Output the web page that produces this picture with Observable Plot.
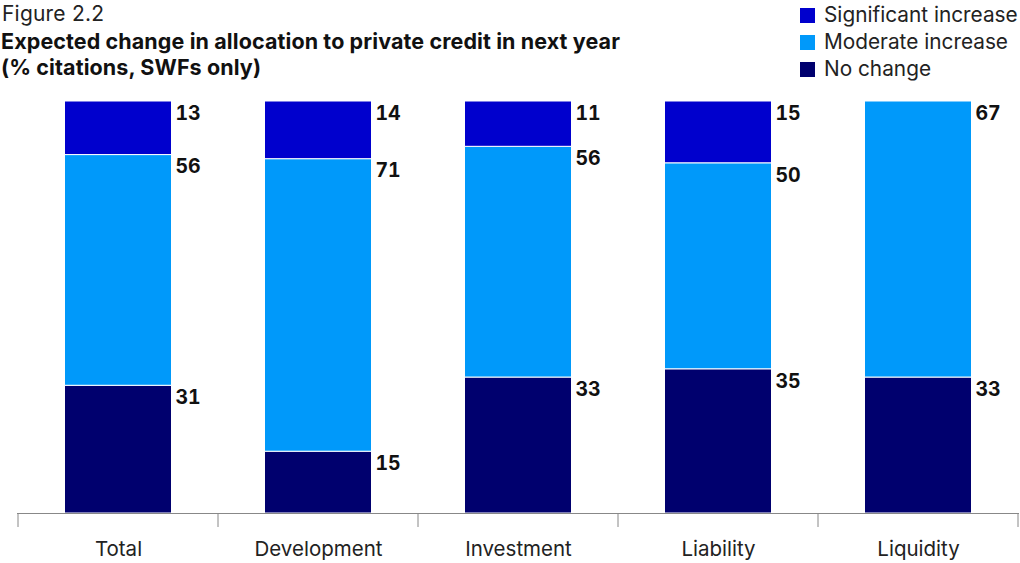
<!DOCTYPE html>
<html><head><meta charset="utf-8">
<script src="https://cdn.jsdelivr.net/npm/d3@7"></script>
<script src="https://cdn.jsdelivr.net/npm/@observablehq/plot@0.6"></script>
<style>
body{margin:0;background:#fff;font-family:Inter,"Noto Sans",sans-serif;color:#111;}
#wrap{position:relative;width:1020px;height:563px;overflow:hidden;}
#fig{position:absolute;left:2px;top:1px;font-size:21px;line-height:26px;letter-spacing:0.2px;font-weight:400;color:#222;}
#title{position:absolute;left:1px;top:28px;font-size:21.5px;font-weight:700;line-height:26px;letter-spacing:0.1px;}
#legend{position:absolute;left:800px;top:1px;font-size:20.8px;line-height:27px;color:#222;}
.sw{display:inline-block;width:15px;height:15px;margin-right:9px;vertical-align:-1px}
#chart{position:absolute;left:0;top:95px;}
</style></head>
<body>
<div id="wrap">
  <div id="fig">Figure 2.2</div>
  <div id="title">Expected change in allocation to private credit in next year<br>(% citations, SWFs only)</div>
  <div id="legend"></div>
  <div id="chart"></div>
</div>
<script>
const categories = ["Total", "Development", "Investment", "Liability", "Liquidity"];
const series = ["No change", "Moderate increase", "Significant increase"];
const noChange = [31, 15, 33, 35, 33];
const moderate = [56, 71, 56, 50, 67];
const significant = [13, 14, 11, 15, 0];
const colors = ["#00006E", "#0099FA", "#0000CD"];
const legendOrder = ["Significant increase", "Moderate increase", "No change"];

const values = [noChange, moderate, significant];
const data = [];
categories.forEach((c, i) => {
  series.forEach((s, j) => data.push({cat: c, series: s, value: values[j][i]}));
});

const legend = document.getElementById("legend");
legendOrder.forEach(s => {
  const row = document.createElement("div");
  const sw = document.createElement("span");
  sw.className = "sw";
  sw.style.background = colors[series.indexOf(s)];
  row.appendChild(sw);
  row.appendChild(document.createTextNode(s));
  legend.appendChild(row);
});

const boundaries = (index, scales, vals, dims) => {
  const x = scales.x;
  const step = x(categories[1]) - x(categories[0]);
  const bounds = categories.map(c => x(c)).concat([x(categories[categories.length - 1]) + step]);
  const yb = dims.height - dims.marginBottom;
  const g = d3.create("svg:g");
  g.selectAll("line").data(bounds).join("line")
    .attr("x1", d => d).attr("x2", d => d)
    .attr("y1", yb).attr("y2", yb + 14)
    .attr("stroke", "#888").attr("stroke-width", 1);
  return g.node();
};

const chart = Plot.plot({
  width: 1020,
  height: 468,
  marginTop: 6,
  marginBottom: 50,
  marginLeft: 17,
  marginRight: 1,
  style: {fontFamily: "Inter, 'Noto Sans', sans-serif", background: "white"},
  x: {domain: categories, padding: 0, axis: null},
  y: {domain: [0, 100], axis: null},
  color: {domain: series, range: colors},
  marks: [
    Plot.barY(data, Plot.stackY({x: "cat", y: "value", fill: "series", order: series, stroke: "white", strokeWidth: 1, insetLeft: 46.5, insetRight: 46.5})),
    Plot.text(data, Plot.stackY2({x: "cat", y: "value", z: "series", order: series, text: d => d.value, filter: d => d.value > 0,
      textAnchor: "start", lineAnchor: "middle", dx: 57, dy: 12, fontSize: 19.5, fontWeight: 700, fill: "#111"})),
    Plot.ruleY([0], {stroke: "#888", strokeWidth: 1}),
    boundaries,
    Plot.axisX({tickSize: 0, tickPadding: 28, label: null, fontSize: 20.5, fill: "#222"})
  ]
});
document.getElementById("chart").appendChild(chart);
</script>
</body></html>
